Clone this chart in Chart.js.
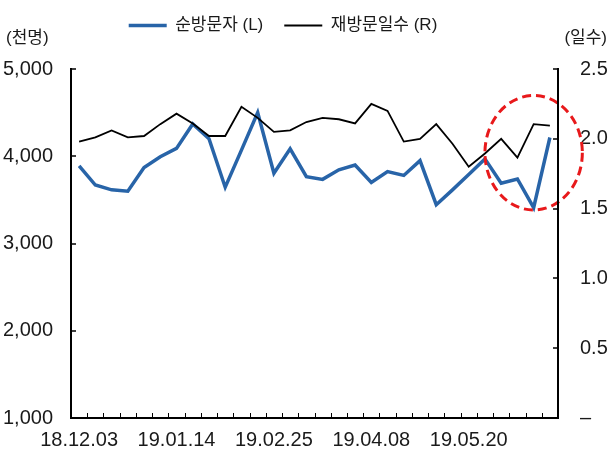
<!DOCTYPE html>
<html lang="ko">
<head>
<meta charset="utf-8">
<title>순방문자 / 재방문일수</title>
<script src="https://cdn.jsdelivr.net/npm/chart.js@4.4.1/dist/chart.umd.min.js"></script>
<style>
  html, body { margin: 0; padding: 0; background: #fff; }
</style>
</head>
<body>
<canvas id="chart" width="608" height="452"></canvas>
<script>
// weekly series, 2018-12-03 .. 2019-06-24
const weeks = [
  '18.12.03', '18.12.10', '18.12.17', '18.12.24', '18.12.31', '19.01.07',
  '19.01.14', '19.01.21', '19.01.28', '19.02.04', '19.02.11', '19.02.18',
  '19.02.25', '19.03.04', '19.03.11', '19.03.18', '19.03.25', '19.04.01',
  '19.04.08', '19.04.15', '19.04.22', '19.04.29', '19.05.06', '19.05.13',
  '19.05.20', '19.05.27', '19.06.03', '19.06.10', '19.06.17', '19.06.24'
];

// 순방문자 (천명), left axis
const visitors = [
  3890, 3670, 3615, 3600, 3870, 3995, 4090, 4370, 4200, 3645,
  4070, 4500, 3805, 4085, 3765, 3735, 3845, 3900, 3700, 3825,
  3780, 3950, 3445, 3615, 3790, 3970, 3690, 3740, 3410, 4215
];

// 재방문일수 (일), right axis
const revisitDays = [
  1.98, 2.01, 2.06, 2.01, 2.02, 2.105, 2.18, 2.11, 2.02, 2.02,
  2.23, 2.15, 2.05, 2.06, 2.12, 2.15, 2.14, 2.11, 2.25, 2.20,
  1.98, 2.00, 2.105, 1.965, 1.80, 1.895, 2.00, 1.865, 2.105, 2.095
];

const leftTicks = [1000, 2000, 3000, 4000, 5000];
const rightTicks = [0, 0.5, 1.0, 1.5, 2.0, 2.5];
const labelEvery = 6;

// dashed ring around the last weeks (x in week index, y in 일수)
const highlight = { center: 28, value: 1.9, halfWeeks: 3, halfValue: 0.41 };

const BLUE = '#2864a8';
const TEXT = '#1a1a1a';
const FONT = '"Liberation Sans", "Noto Sans CJK KR", Arial, sans-serif';

Chart.defaults.font.family = FONT;
Chart.defaults.color = TEXT;

// legend: extra room below it, and sit it a bit left of centre
const legendPlacement = {
  id: 'legendPlacement',
  beforeInit(chart) {
    const fit = chart.legend.fit;
    chart.legend.fit = function () {
      fit.call(this);
      this.height += 25;
    };
  },
  afterLayout(chart) {
    chart.legend.left -= 21;
    chart.legend.right -= 21;
  }
};

// red dashed ellipse, drawn over the lines but under the axes
const ring = {
  id: 'ring',
  afterDatasetsDraw(chart) {
    const { ctx, scales: { x, y1 } } = chart;
    const cx = x.getPixelForValue(highlight.center);
    const rx = x.getPixelForValue(highlight.center + highlight.halfWeeks) - cx;
    const cy = y1.getPixelForValue(highlight.value);
    const ry = y1.getPixelForValue(highlight.value - highlight.halfValue) - cy;
    ctx.save();
    ctx.strokeStyle = '#e8191b';
    ctx.lineWidth = 3;
    ctx.setLineDash([9, 5]);
    ctx.beginPath();
    ctx.ellipse(cx, cy, rx, ry, 0, 0, Math.PI * 2);
    ctx.stroke();
    ctx.restore();
  }
};

// tick marks pointing into the plot + unit captions
const frameMarks = {
  id: 'frameMarks',
  afterDraw(chart) {
    const { ctx, chartArea: a, scales: { x, y, y1 } } = chart;
    ctx.save();
    ctx.strokeStyle = '#000';

    ctx.lineWidth = 1;
    ctx.beginPath();
    for (let i = 1; i < weeks.length; i++) {
      const px = Math.round(x.getPixelForValue(i - 0.5)) + 0.5;
      ctx.moveTo(px, a.bottom);
      ctx.lineTo(px, a.bottom - 5);
    }
    ctx.stroke();

    ctx.lineWidth = 1.5;
    ctx.beginPath();
    leftTicks.forEach(v => {
      const py = Math.round(y.getPixelForValue(v));
      ctx.moveTo(a.left, py);
      ctx.lineTo(a.left + 5, py);
    });
    rightTicks.forEach(v => {
      const py = Math.round(y1.getPixelForValue(v));
      ctx.moveTo(a.right, py);
      ctx.lineTo(a.right - 5, py);
    });
    ctx.stroke();

    ctx.fillStyle = TEXT;
    ctx.font = '17px ' + FONT;
    ctx.textBaseline = 'middle';
    ctx.textAlign = 'left';
    ctx.fillText('(천명)', 6, 38);
    ctx.textAlign = 'right';
    ctx.fillText('(일수)', 607, 38);
    ctx.restore();
  }
};

new Chart(document.getElementById('chart'), {
  type: 'line',
  data: {
    labels: weeks,
    datasets: [
      {
        label: '순방문자 (L)',
        data: visitors,
        yAxisID: 'y',
        borderColor: BLUE,
        backgroundColor: BLUE,
        borderWidth: 3.5,
        pointRadius: 0,
        tension: 0,
        order: 1
      },
      {
        label: '재방문일수 (R)',
        data: revisitDays,
        yAxisID: 'y1',
        borderColor: '#000',
        backgroundColor: '#000',
        borderWidth: 1.8,
        pointRadius: 0,
        tension: 0,
        order: 0
      }
    ]
  },
  options: {
    responsive: false,
    animation: false,
    layout: { padding: { top: -4, right: 0, bottom: 0, left: 0 } },
    plugins: {
      legend: {
        position: 'top',
        labels: {
          usePointStyle: true,
          pointStyle: 'line',
          pointStyleWidth: 38,
          padding: 21,
          color: TEXT,
          font: { size: 17 },
          sort: (a, b) => a.datasetIndex - b.datasetIndex
        }
      },
      tooltip: { enabled: false }
    },
    scales: {
      x: {
        offset: true,
        grid: { display: false, drawTicks: false, offset: true },
        border: { display: true, color: '#000', width: 2, z: 1 },
        ticks: {
          autoSkip: false,
          maxRotation: 0,
          minRotation: 0,
          padding: 10,
          font: { size: 20 },
          callback(value, index) {
            return index % labelEvery === 0 ? this.getLabelForValue(value) : '';
          }
        },
        afterFit(scale) { scale.height = 34; }
      },
      y: {
        position: 'left',
        min: leftTicks[0],
        max: leftTicks[leftTicks.length - 1],
        afterBuildTicks(scale) { scale.ticks = leftTicks.map(v => ({ value: v })); },
        grid: { display: false, drawTicks: false },
        border: { display: true, color: '#000', width: 2, z: 1 },
        ticks: {
          padding: 18,
          font: { size: 20 },
          callback: v => v.toLocaleString('en-US')
        },
        afterFit(scale) { scale.width = 71; }
      },
      y1: {
        position: 'right',
        min: rightTicks[0],
        max: rightTicks[rightTicks.length - 1],
        afterBuildTicks(scale) { scale.ticks = rightTicks.map(v => ({ value: v })); },
        grid: { display: false, drawTicks: false },
        border: { display: true, color: '#000', width: 2, z: 1 },
        ticks: {
          padding: 22,
          font: { size: 20 },
          callback: v => (v === 0 ? '–' : v.toFixed(1))
        },
        afterFit(scale) { scale.width = 50; }
      }
    }
  },
  plugins: [legendPlacement, ring, frameMarks]
});
</script>
</body>
</html>
